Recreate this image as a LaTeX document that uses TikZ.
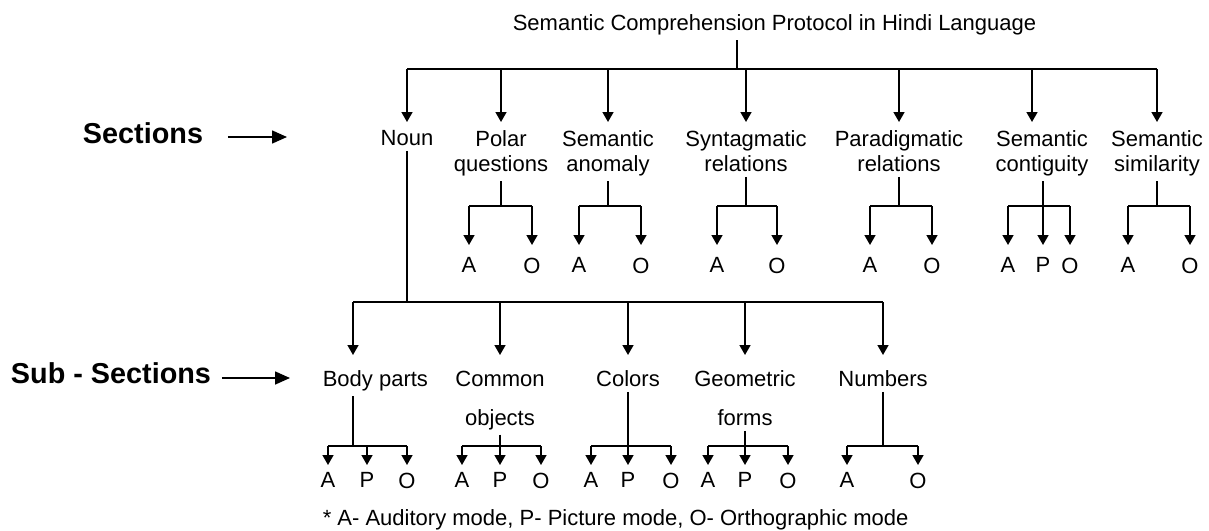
\documentclass[tikz,border=0pt]{standalone}
\usepackage{fontspec}
\setmainfont{Liberation Sans}
\usetikzlibrary{arrows.meta,positioning,calc}

\begin{document}
\begin{tikzpicture}[x=0.5pt, y=-0.5pt, ->, >={Triangle[width=5.5pt,length=5pt]}, line width=0.8pt,
	font=\fontsize{11}{12.6}\selectfont]
	\tikzstyle{sec}=[align=center, anchor=north, inner sep=2pt]
	\tikzstyle{mode}=[anchor=north, inner sep=2pt]
	\tikzstyle{tag}=[font=\fontsize{14.4}{17}\selectfont\bfseries, anchor=base, inner sep=0pt]
	\tikzstyle{bar}=[-]
	\useasboundingbox (0,0) rectangle (1209,530);

	% title and sections
	\node[anchor=base west, inner sep=0pt] (T) at (512,30) {Semantic Comprehension Protocol in Hindi Language};
	\coordinate (t) at (737,69);
	\node[sec] (N)  at (407,126)  {Noun};
	\node[sec] (S1) at (501,126)  {Polar\\questions};
	\node[sec] (S2) at (608,126)  {Semantic\\anomaly};
	\node[sec] (S3) at (746,126)  {Syntagmatic\\relations};
	\node[sec] (S4) at (899,126)  {Paradigmatic\\relations};
	\node[sec] (S5) at (1042,126) {Semantic\\contiguity};
	\node[sec] (S6) at (1157,126) {Semantic\\similarity};
	\coordinate (c5) at (1032,69);
	\draw[bar, shorten <=2.5pt] (t |- T.south) -- (t);
	\draw[bar] (N |- t) -- (S6 |- t);
	\foreach \s in {N,S1,S2,S3,S4,S6}
		\draw[shorten >=2pt] (\s |- t) -- (\s.north);
	\draw[shorten >=2pt] (c5) -- (c5 |- S5.north);

	% modes of the sections
	\foreach \s/\a/\o in {S1/469/532, S2/579/641, S3/717/777, S4/870/932, S6/1128/1190}{
		\node[mode] (\s-a) at (\a,253) {A};
		\node[mode] (\s-o) at (\o,253) {O};
		\draw[bar] (\s.south) -- (\s |- 0,206);
		\draw[bar] (\s-a |- 0,206) -- (\s-o |- 0,206);
		\draw[shorten >=4pt] (\s-a |- 0,206) -- (\s-a.north);
		\draw[shorten >=4pt] (\s-o |- 0,206) -- (\s-o.north);
	}
	\node[mode] (S5-a) at (1008,253) {A};
	\node[mode] (S5-p) at (1043,253) {P};
	\node[mode] (S5-o) at (1070,253) {O};
	\draw[bar] (S5-a |- 0,206) -- (S5-o |- 0,206);
	\draw[shorten >=4pt] (S5-p |- S5.south) -- (S5-p.north);
	\foreach \m in {a,o}
		\draw[shorten >=4pt] (S5-\m |- 0,206) -- (S5-\m.north);

	% sub-sections of Noun
	\coordinate (bp) at (353,302);
	\node[sec, anchor=north west] (B1) at (318,366) {Body parts};
	\node[sec] (B2) at (500,366) {Common\\[7pt]objects};
	\node[sec] (B3) at (628,366) {Colors};
	\node[sec] (B4) at (745,366) {Geometric\\[7pt]forms};
	\node[sec] (B5) at (883,366) {Numbers};
	\draw[bar] (N.south) -- (N |- bp);
	\draw[bar] (bp) -- (B5 |- bp);
	\draw[shorten >=5.5pt] (bp) -- (bp |- B1.north);
	\foreach \s in {B2,B3,B4,B5}
		\draw[shorten >=5.5pt] (\s |- bp) -- (\s.north);

	% modes of the sub-sections
	\foreach \s/\a/\p/\o in {B2/462/500/541, B3/591/628/671, B4/708/745/788}{
		\node[mode] (\s-a) at (\a,468) {A};
		\node[mode] (\s-p) at (\p,468) {P};
		\node[mode] (\s-o) at (\o,468) {O};
		\draw[bar] (\s-a |- 0,446) -- (\s-o |- 0,446);
		\draw[shorten >=1.5pt] (\s.south) -- (\s-p.north);
		\draw[shorten >=1.5pt] (\s-a |- 0,446) -- (\s-a.north);
		\draw[shorten >=1.5pt] (\s-o |- 0,446) -- (\s-o.north);
	}
	\node[mode] (B1-a) at (328,468) {A};
	\node[mode] (B1-p) at (367,468) {P};
	\node[mode] (B1-o) at (407,468) {O};
	\draw[bar] (bp |- B1.south) -- (bp |- 0,446);
	\draw[bar] (B1-a |- 0,446) -- (B1-o |- 0,446);
	\foreach \m in {a,p,o}
		\draw[shorten >=1.5pt] (B1-\m |- 0,446) -- (B1-\m.north);
	\node[mode] (B5-a) at (847,468) {A};
	\node[mode] (B5-o) at (918,468) {O};
	\draw[bar] (B5.south) -- (B5 |- 0,446);
	\draw[bar] (B5-a |- 0,446) -- (B5-o |- 0,446);
	\foreach \m in {a,o}
		\draw[shorten >=1.5pt] (B5-\m |- 0,446) -- (B5-\m.north);

	% left labels
	\node[tag] (L1) at (143,143) {Sections};
	\coordinate (e1) at (287,137);
	\draw[>={Triangle[width=6.5pt,length=7.5pt]}, shorten <=12pt] (L1.east |- e1) -- (e1);
	\node[tag] (L2) at (111,383) {Sub - Sections};
	\coordinate (e2) at (290,378);
	\draw[>={Triangle[width=6.5pt,length=7.5pt]}, shorten <=5pt] (L2.east |- e2) -- (e2);

	\node[anchor=base west, inner sep=0pt] (F) at (322,525) {* A- Auditory mode, P- Picture mode, O- Orthographic mode};
\end{tikzpicture}
\end{document}
